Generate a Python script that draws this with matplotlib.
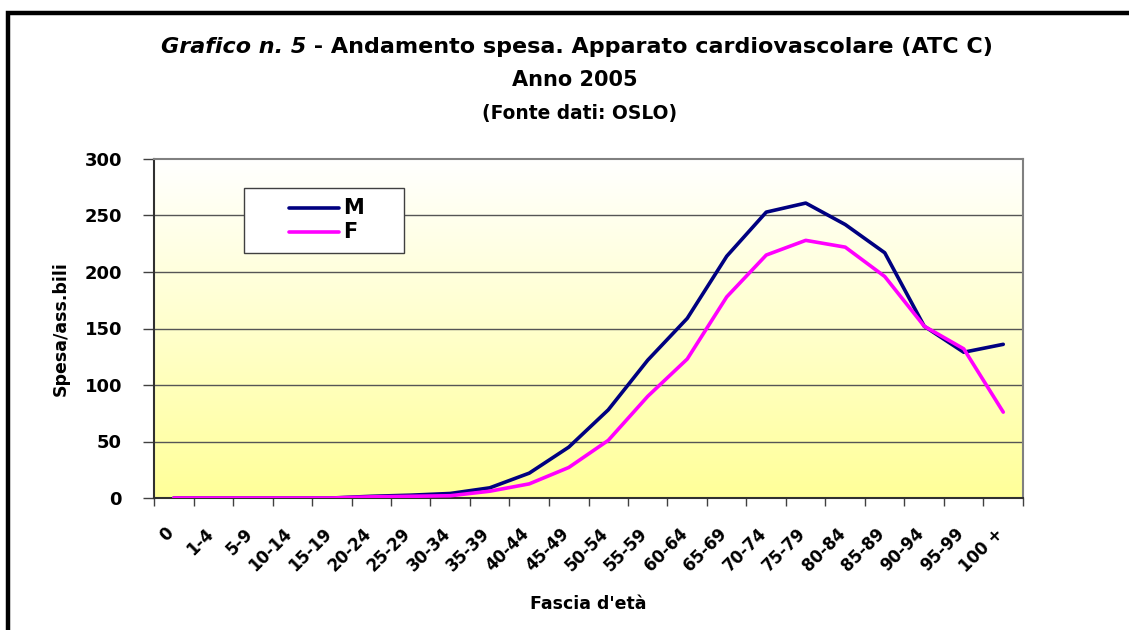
import matplotlib
matplotlib.use("Agg")
import matplotlib.pyplot as plt
import matplotlib.transforms as mtransforms
import numpy as np
from matplotlib.lines import Line2D
from matplotlib.patches import Rectangle

# fasce d'eta
categories = ['0', '1-4', '5-9', '10-14', '15-19', '20-24', '25-29', '30-34',
              '35-39', '40-44', '45-49', '50-54', '55-59', '60-64', '65-69',
              '70-74', '75-79', '80-84', '85-89', '90-94', '95-99', '100 +']

# spesa/ass.bili
m_values = [0, 0, 0, 0, 0, 1.5, 2.5, 4, 9, 22, 45, 78, 122, 159, 214,
            253, 261, 242, 217, 152, 129, 136]
f_values = [0, 0, 0, 0, 0, 1, 1.5, 2, 6, 12.5, 27, 51, 90, 123, 178,
            215, 228, 222, 196, 152, 132, 76]

yticks = [0, 50, 100, 150, 200, 250, 300]

plt.rcParams['font.family'] = ['DejaVu Sans']
plt.rcParams['font.weight'] = 'bold'

W, H = 1129, 630
fig = plt.figure(figsize=(W / 100, H / 100), dpi=100)
ax = fig.add_axes([154 / W, 1 - 498 / H, 869 / W, 339 / H])

# sfondo sfumato bianco -> giallo
grad = np.linspace(0, 1, 256).reshape(-1, 1)
top = np.array([1.0, 1.0, 1.0])
bottom = np.array([1.0, 1.0, 0.6])
img = top + (bottom - top) * grad[:, :, None]
ax.imshow(img, extent=[0, 1, 0, 1], transform=ax.transAxes, aspect='auto',
          zorder=0, origin='upper')

x = np.arange(len(categories))
ax.plot(x, m_values, color='#000080', lw=2.6, zorder=3,
        solid_capstyle='round', solid_joinstyle='round')
ax.plot(x, f_values, color='#FF00FF', lw=2.6, zorder=3,
        solid_capstyle='round', solid_joinstyle='round')

ax.set_xlim(-0.5, len(categories) - 0.5)
ax.set_ylim(0, 300)

for v in yticks[1:-1]:
    ax.axhline(v, color='#555555', lw=1.0, zorder=1)

ax.set_yticks(yticks)
ax.set_yticklabels([str(v) for v in yticks], fontsize=13, fontweight='bold')
ax.tick_params(axis='y', length=8, width=1, color='#404040', pad=15)

ax.set_xticks(np.arange(-0.5, len(categories), 1))
ax.set_xticklabels([])
ax.tick_params(axis='x', which='major', length=6, width=1, color='#404040')
ax.set_xticks(x, minor=True)
ax.set_xticklabels(categories, minor=True, rotation=45, ha='right', va='top',
                   rotation_mode='anchor', fontsize=12, fontweight='bold')
ax.tick_params(axis='x', which='minor', length=0, pad=19)
shift = mtransforms.ScaledTranslation(-9 / 100, 0, fig.dpi_scale_trans)
for lab in ax.get_xticklabels(minor=True):
    lab.set_transform(lab.get_transform() + shift)

for s in ['left', 'bottom']:
    ax.spines[s].set_color('#303030')
    ax.spines[s].set_linewidth(1.5)
for s in ['top', 'right']:
    ax.spines[s].set_color('#808080')
    ax.spines[s].set_linewidth(1.5)

ax.set_ylabel('Spesa/ass.bili', fontsize=12.5, fontweight='bold', labelpad=11)
ax.set_xlabel("Fascia d'età", fontsize=12.5, fontweight='bold', labelpad=14)

# legenda (riquadro come in Excel)
ax.add_patch(Rectangle((0.1036, 0.7227), 0.1841, 0.1918, transform=ax.transAxes,
                       facecolor='white', edgecolor='#404040', lw=1.0, zorder=4))
for yy, col, lab in [(0.8555, '#000080', 'M'), (0.7847, '#FF00FF', 'F')]:
    ax.add_line(Line2D([0.1554, 0.2129], [yy, yy], transform=ax.transAxes,
                       color=col, lw=2.6, zorder=5, solid_capstyle='round'))
    ax.text(0.2175, yy, lab, transform=ax.transAxes, fontsize=15,
            fontweight='bold', va='center', ha='left', zorder=5)

# titoli
ty = 1 - 47 / H
t1 = fig.text(0, ty, 'Grafico n. 5', fontsize=16, fontweight='bold',
              style='italic', va='center', ha='left')
t2 = fig.text(0, ty, ' - Andamento spesa. Apparato cardiovascolare (ATC C)',
              fontsize=16, fontweight='bold', va='center', ha='left')
fig.canvas.draw()
w1 = t1.get_window_extent().width
w2 = t2.get_window_extent().width
x0 = 577 - (w1 + w2) / 2
t1.set_x(x0 / W)
t2.set_x((x0 + w1) / W)
fig.text(575 / W, 1 - 80 / H, 'Anno 2005', fontsize=15, fontweight='bold',
         ha='center', va='center')
fig.text(580 / W, 1 - 114 / H, '(Fonte dati: OSLO)', fontsize=13.4,
         fontweight='bold', ha='center', va='center')

# cornice
fig.add_artist(Line2D([8 / W, 8 / W, 1.0], [0.0, 1 - 13 / H, 1 - 13 / H],
                      transform=fig.transFigure, color='black', lw=3.2,
                      solid_joinstyle='miter'))

fig.savefig('out.png', dpi=100)
